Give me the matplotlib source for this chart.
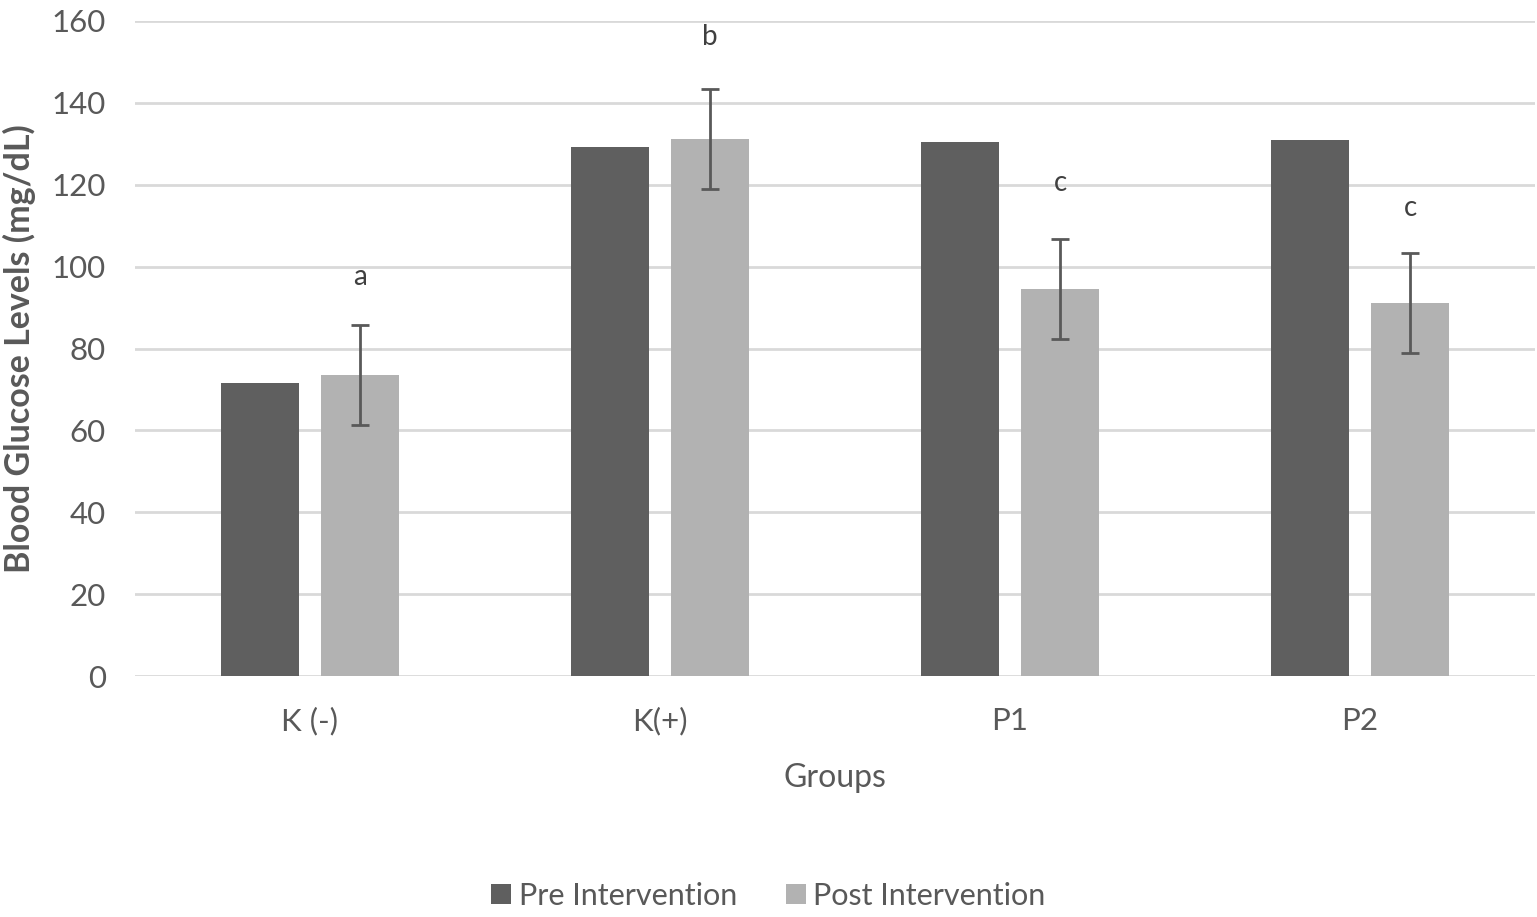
#
# Description: blood glucose grouped bar chart
#

import numpy as np
import matplotlib.pyplot as plt

# 数据
groups = ['K (-)', 'K(+)', 'P1', 'P2']
pre_values = [71.6, 129.2, 130.4, 130.9]
post_values = [73.5, 131.2, 94.5, 91.1]
post_err = [12.2, 12.2, 12.2, 12.2]
sig_letters = ['a', 'b', 'c', 'c']
letter_offset = [11.7, 12.7, 13.7, 11.0]


def glucose_chart():
    plt.rcParams['font.family'] = ['Lato', 'DejaVu Sans']
    text_color = '#595959'

    fig = plt.figure(figsize=(15.37, 9.17), dpi=100)
    ax = fig.add_axes([0.0878, 0.2628, 0.9109, 0.7143])

    x = np.arange(len(groups))
    width = 0.223
    shift = 0.143

    ax.bar(x - shift, pre_values, width, color='#5f5f5f', label='Pre Intervention', zorder=3)
    ax.bar(x + shift, post_values, width, color='#b2b2b2', label='Post Intervention', zorder=3)
    ax.errorbar(x + shift, post_values, yerr=post_err, fmt='none', ecolor=text_color,
                elinewidth=2, capsize=6.3, capthick=2, zorder=4)

    # 显著性字母
    for i in range(len(groups)):
        ax.text(x[i] + shift, post_values[i] + post_err[i] + letter_offset[i], sig_letters[i],
                ha='center', va='center', fontsize=20, color='#404040')

    ax.set_xlim(-0.5, len(groups) - 0.5)
    ax.set_ylim(0, 160)
    ax.set_yticks(range(0, 161, 20))
    ax.set_xticks(x)
    ax.set_xticklabels(groups)
    ax.tick_params(axis='both', length=0, labelsize=22.5, colors=text_color)
    ax.tick_params(axis='y', pad=21)
    ax.tick_params(axis='x', pad=22)
    ax.grid(axis='y', color='#d9d9d9', linewidth=2, zorder=0)
    for side in ['top', 'right', 'left', 'bottom']:
        ax.spines[side].set_visible(False)

    ax.set_xlabel('Groups', fontsize=23, color=text_color, labelpad=20)
    ax.set_ylabel('Blood Glucose Levels (mg/dL)', fontsize=24.5, fontweight='bold',
                  color=text_color)
    ax.yaxis.set_label_coords(-0.0705, 0.5)

    fig.legend(loc='lower center', bbox_to_anchor=(0.5, -0.022), ncol=2, frameon=False,
               fontsize=22, labelcolor=text_color, handlelength=0.65, handleheight=0.65,
               handletextpad=0.25, columnspacing=1.6)

    fig.savefig('out.png', dpi=100)


if __name__ == "__main__":
    glucose_chart()
